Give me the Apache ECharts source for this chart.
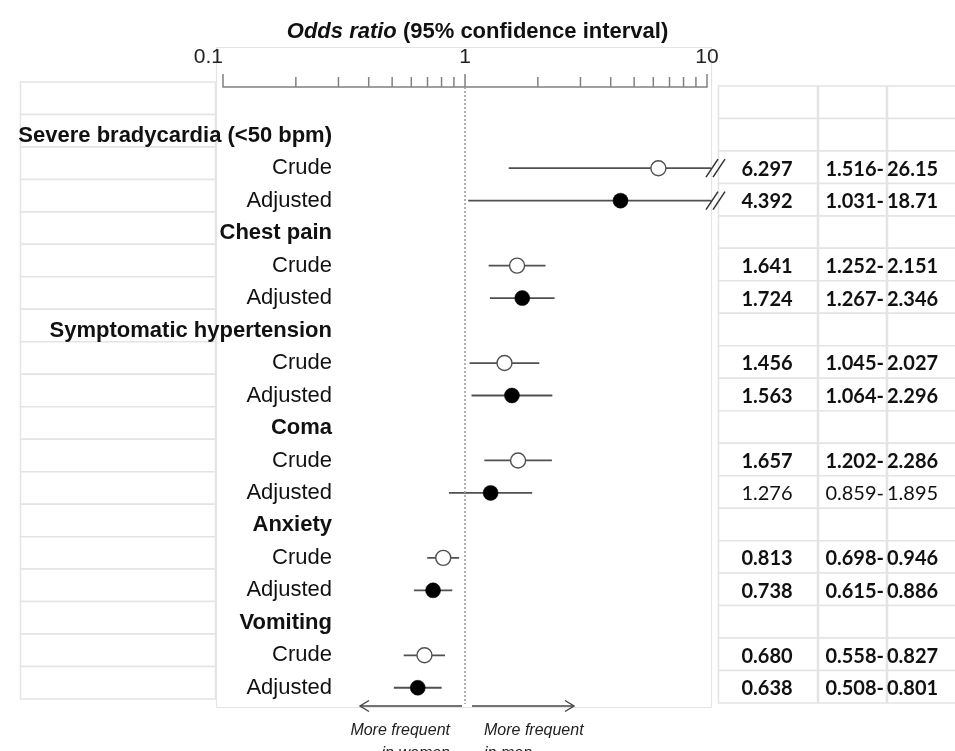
<!DOCTYPE html>
<html>
<head>
<meta charset="utf-8">
<script src="https://cdn.jsdelivr.net/npm/echarts@6/dist/echarts.min.js"></script>
<style>
  html, body { margin: 0; padding: 0; background: #ffffff; }
  #chart { width: 955px; height: 751px; }
</style>
</head>
<body>
<div id="chart"></div>
<script>
// ---------------- data ----------------
const outcomes = ['Severe bradycardia (<50 bpm)', 'Chest pain', 'Symptomatic hypertension', 'Coma', 'Anxiety', 'Vomiting'];
const subLabels = ['Crude', 'Adjusted'];
const crudeOR = [6.297, 1.641, 1.456, 1.657, 0.813, 0.680];
const crudeLo = [1.516, 1.252, 1.045, 1.202, 0.698, 0.558];
const crudeHi = [26.15, 2.151, 2.027, 2.286, 0.946, 0.827];
const adjOR   = [4.392, 1.724, 1.563, 1.276, 0.738, 0.638];
const adjLo   = [1.031, 1.267, 1.064, 0.859, 0.615, 0.508];
const adjHi   = [18.71, 2.346, 2.296, 1.895, 0.886, 0.801];
// text shown in the table (as printed)
const crudeORText = ['6.297', '1.641', '1.456', '1.657', '0.813', '0.680'];
const crudeLoText = ['1.516', '1.252', '1.045', '1.202', '0.698', '0.558'];
const crudeHiText = ['26.15', '2.151', '2.027', '2.286', '0.946', '0.827'];
const adjORText   = ['4.392', '1.724', '1.563', '1.276', '0.738', '0.638'];
const adjLoText   = ['1.031', '1.267', '1.064', '0.859', '0.615', '0.508'];
const adjHiText   = ['18.71', '2.346', '2.296', '1.895', '0.886', '0.801'];
const axisMin = 0.1, axisMax = 10;
const majorTicks = [0.1, 1, 10];
const minorTicks = [0.2, 0.3, 0.4, 0.5, 0.6, 0.7, 0.8, 0.9, 2, 3, 4, 5, 6, 7, 8, 9];
const titleItalic = 'Odds ratio';
const titleRest = '(95% confidence interval)';
const noteLeft = ['More frequent', 'in women'];
const noteRight = ['More frequent', 'in men'];

// ---------------- build rows ----------------
const rowLabels = [''];
const rowKinds = ['blank'];
const tableRows = [null];
const crudePts = [], adjPts = [], ciData = [];
outcomes.forEach((o, i) => {
  rowLabels.push(o); rowKinds.push('head'); tableRows.push(null);
  const rc = rowLabels.length;
  rowLabels.push(subLabels[0]); rowKinds.push('sub');
  tableRows.push({ or: crudeORText[i], lo: crudeLoText[i], hi: crudeHiText[i], sig: crudeLo[i] > 1 || crudeHi[i] < 1 });
  const ra = rowLabels.length;
  rowLabels.push(subLabels[1]); rowKinds.push('sub');
  tableRows.push({ or: adjORText[i], lo: adjLoText[i], hi: adjHiText[i], sig: adjLo[i] > 1 || adjHi[i] < 1 });
  crudePts.push([crudeOR[i], rc]);
  adjPts.push([adjOR[i], ra]);
  ciData.push([crudeLo[i], crudeHi[i], rc]);
  ciData.push([adjLo[i], adjHi[i], ra]);
});

const labelFont = '"Liberation Sans", Arial, sans-serif';
const tableFont = 'Lato, "Open Sans", sans-serif';
const lineCol = '#505050';

const chart = echarts.init(document.getElementById('chart'), null, { renderer: 'canvas' });

const option = {
  animation: false,
  backgroundColor: '#ffffff',
  title: {
    text: '{i|' + titleItalic + '} ' + titleRest,
    left: 'center',
    top: 16,
    textStyle: {
      fontFamily: labelFont, fontSize: 22, fontWeight: 'bold', color: '#111',
      rich: { i: { fontFamily: labelFont, fontSize: 22, fontWeight: 'bold', fontStyle: 'italic', color: '#111' } }
    }
  },
  grid: { left: 223, right: 248, top: 87, height: 617, containLabel: false },
  xAxis: {
    type: 'log', logBase: 10, min: axisMin, max: axisMax,
    position: 'top',
    axisLine: { show: true, lineStyle: { color: '#808080', width: 1.5 } },
    axisTick: { show: true, inside: false, length: 13, lineStyle: { color: '#808080', width: 1.5 } },
    axisLabel: {
      show: true, margin: 19, fontFamily: labelFont, fontSize: 21, color: '#222',
      alignMinLabel: 'right',
      formatter: v => {
        const m = majorTicks.find(t => Math.abs(t - v) / t < 1e-6);
        return m !== undefined ? String(m) : '';
      }
    },
    splitLine: { show: false },
    minorTick: { show: false }
  },
  yAxis: {
    type: 'category', inverse: true, data: rowLabels,
    axisLine: { show: false }, axisTick: { show: false }, splitLine: { show: false },
    axisLabel: {
      show: true, interval: 0, margin: -109, align: 'right',
      formatter: (v, idx) => {
        if (rowKinds[idx] === 'head') return '{h|' + v + '}';
        if (rowKinds[idx] === 'sub') return '{s|' + v + '}';
        return '';
      },
      rich: {
        h: { fontFamily: labelFont, fontSize: 22, fontWeight: 'bold', color: '#111' },
        s: { fontFamily: labelFont, fontSize: 22, fontWeight: 'normal', color: '#111' }
      }
    }
  },
  graphic: [
    { type: 'rect', z: -10, silent: true, shape: { x: 216.5, y: 47.5, width: 495, height: 660 },
      style: { fill: 'rgba(0,0,0,0)', stroke: '#e4e4e4', lineWidth: 1.2 } },
    // arrows
    { type: 'line', shape: { x1: 462, y1: 706, x2: 360, y2: 706 }, style: { stroke: '#444', lineWidth: 1.4 }, z: 50 },
    { type: 'polyline', shape: { points: [[369, 700.5], [360, 706], [369, 711.5]] }, style: { stroke: '#444', lineWidth: 1.4, fill: null }, z: 50 },
    { type: 'line', shape: { x1: 472, y1: 706, x2: 574, y2: 706 }, style: { stroke: '#444', lineWidth: 1.4 }, z: 50 },
    { type: 'polyline', shape: { points: [[565, 700.5], [574, 706], [565, 711.5]] }, style: { stroke: '#444', lineWidth: 1.4, fill: null }, z: 50 },
    { type: 'text', z: 50, style: { x: 450, y: 719, text: noteLeft.join('\n'), align: 'right', verticalAlign: 'top',
      font: 'italic 16px ' + labelFont, fill: '#222', lineHeight: 23 } },
    { type: 'text', z: 50, style: { x: 484, y: 719, text: noteRight.join('\n'), align: 'left', verticalAlign: 'top',
      font: 'italic 16px ' + labelFont, fill: '#222', lineHeight: 23 } }
  ],
  series: [
    {
      // background cells: left label cells and right-hand table
      type: 'custom', name: 'table', clip: false, z: 0, silent: true,
      data: rowLabels.map((_, i) => [1, i]),
      encode: { x: 0, y: 1 },
      renderItem: (params, api) => {
        const idx = params.dataIndex;
        const c = api.coord([1, api.value(1)]);
        const h = api.size([0, 1])[1];
        const top = c[1] - h / 2;
        const cellStyle = { fill: '#ffffff', stroke: '#e4e4e4', lineWidth: 1.5 };
        const children = [
          { type: 'rect', shape: { x: 20.5, y: top - 5, width: 195, height: h }, style: cellStyle },
          { type: 'rect', shape: { x: 718.5, y: top - 1, width: 99, height: h }, style: cellStyle },
          { type: 'rect', shape: { x: 818.5, y: top - 1, width: 68, height: h }, style: cellStyle },
          { type: 'rect', shape: { x: 887.5, y: top - 1, width: 70, height: h }, style: cellStyle }
        ];
        const r = tableRows[idx];
        if (r) {
          const fw = r.sig ? 'bold' : 'normal';
          const font = fw + ' 20px ' + tableFont;
          children.push({ type: 'text', style: { x: 767, y: c[1] + 1, text: r.or, align: 'center', verticalAlign: 'middle', font: font, fill: '#111' } });
          children.push({ type: 'text', style: { x: 884, y: c[1] + 1, text: r.lo + '-', align: 'right', verticalAlign: 'middle', font: font, fill: '#111' } });
          children.push({ type: 'text', style: { x: 887, y: c[1] + 1, text: r.hi, align: 'left', verticalAlign: 'middle', font: font, fill: '#111' } });
        }
        return { type: 'group', children: children };
      }
    },
    {
      // minor ticks on the log axis
      type: 'custom', name: 'minorTicks', clip: false, z: 3, silent: true,
      data: minorTicks.map(v => [v, 0]),
      encode: { x: 0, y: 1 },
      renderItem: (params, api) => {
        const p = api.coord([api.value(0), 0]);
        const gy = params.coordSys.y;
        return { type: 'line', shape: { x1: p[0], y1: gy, x2: p[0], y2: gy - 10 },
          style: { stroke: '#808080', lineWidth: 1.5 } };
      }
    },
    {
      // confidence intervals
      type: 'custom', name: 'ci', clip: false, z: 4, silent: true,
      data: ciData,
      encode: { x: [0, 1], y: 2 },
      renderItem: (params, api) => {
        const lo = api.value(0), hi = api.value(1), row = api.value(2);
        const p1 = api.coord([Math.max(lo, axisMin), row]);
        const p2 = api.coord([Math.min(hi, axisMax), row]);
        const children = [];
        let xEnd = p2[0];
        if (hi > axisMax) xEnd += 4;
        children.push({ type: 'line', shape: { x1: p1[0], y1: p1[1], x2: xEnd, y2: p2[1] }, style: { stroke: lineCol, lineWidth: 1.8 } });
        if (hi > axisMax) {
          [xEnd + 1, xEnd + 8].forEach(cx => {
            children.push({ type: 'line', shape: { x1: cx - 6, y1: p2[1] + 9, x2: cx + 6, y2: p2[1] - 9 }, style: { stroke: '#333', lineWidth: 1.5 } });
          });
        }
        return { type: 'group', children: children };
      }
    },
    {
      type: 'scatter', name: 'Crude', z: 6, data: crudePts,
      symbol: 'circle', symbolSize: 15,
      itemStyle: { color: '#ffffff', borderColor: '#505050', borderWidth: 1.4, opacity: 1 },
      markLine: {
        silent: true, symbol: ['none', 'none'], label: { show: false },
        lineStyle: { type: [2, 2], color: '#9a9a9a', width: 1.5 },
        data: [{ xAxis: 1 }]
      }
    },
    {
      type: 'scatter', name: 'Adjusted', z: 6, data: adjPts,
      symbol: 'circle', symbolSize: 15,
      itemStyle: { color: '#000000', borderColor: '#000000', borderWidth: 0.5, opacity: 1 }
    }
  ]
};
chart.setOption(option);
</script>
</body>
</html>
